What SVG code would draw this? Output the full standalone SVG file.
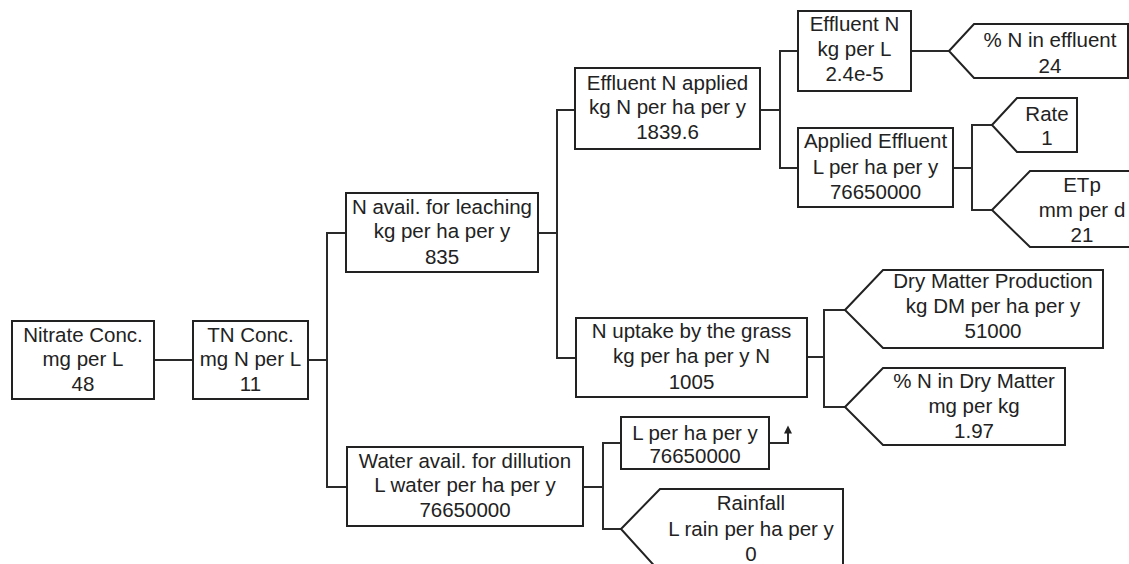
<svg xmlns="http://www.w3.org/2000/svg" width="1129" height="564" viewBox="0 0 1129 564">
  <style>
    .box { fill: #ffffff; stroke: #222222; stroke-width: 2; }
    .wire { fill: none; stroke: #2a2a2a; stroke-width: 2; }
    text { font-family: "Liberation Sans", Arial, sans-serif; font-size: 20.5px; fill: #222222; text-anchor: middle; }
  </style>
  <defs>
    <marker id="arrowHead" viewBox="0 0 10 10" refX="7" refY="5" markerWidth="9" markerHeight="8" orient="auto" markerUnits="userSpaceOnUse">
      <path d="M0,0 L10,5 L0,10 Z" fill="#222222"/>
    </marker>
  </defs>
  <rect width="1129" height="564" fill="#ffffff"/>

  <!-- connectors -->
  <g id="connectors">
    <path class="wire" d="M154,360 H193"/>
    <path class="wire" d="M308,360 H327"/>
    <path class="wire" d="M346,233 H327 V487 H347"/>
    <path class="wire" d="M538,233 H557"/>
    <path class="wire" d="M575,110 H557 V358 H576"/>
    <path class="wire" d="M760,110 H780"/>
    <path class="wire" d="M798,51 H780 V168 H798"/>
    <path class="wire" d="M911,51 H949"/>
    <path class="wire" d="M953,168 H972"/>
    <path class="wire" d="M992,125 H972 V210 H992"/>
    <path class="wire" d="M807,357 H824"/>
    <path class="wire" d="M845,310 H824 V407 H845"/>
    <path class="wire" d="M583,487 H603"/>
    <path class="wire" d="M621,443 H603 V529 H621"/>
    <path class="wire" d="M769,443 H788 V428" marker-end="url(#arrowHead)"/>
  </g>

  <g id="nitrate-conc">
    <rect class="box" x="12" y="321" width="142" height="78"/>
    <text x="83" y="342">Nitrate Conc.</text>
    <text x="83" y="366">mg per L</text>
    <text x="83" y="391">48</text>
  </g>

  <g id="tn-conc">
    <rect class="box" x="193" y="321" width="115" height="78"/>
    <text x="250.5" y="342">TN Conc.</text>
    <text x="250.5" y="366">mg N per L</text>
    <text x="250.5" y="391">11</text>
  </g>

  <g id="n-avail-leaching">
    <rect class="box" x="346" y="193" width="192" height="79"/>
    <text x="442" y="214">N avail. for leaching</text>
    <text x="442" y="238">kg per ha per y</text>
    <text x="442" y="264">835</text>
  </g>

  <g id="water-avail-dilution">
    <rect class="box" x="347" y="447" width="236" height="79"/>
    <text x="465" y="468">Water avail. for dillution</text>
    <text x="465" y="492">L water per ha per y</text>
    <text x="465" y="517">76650000</text>
  </g>

  <g id="effluent-n-applied">
    <rect class="box" x="575" y="68" width="185" height="81"/>
    <text x="667.5" y="90">Effluent N applied</text>
    <text x="667.5" y="114">kg N per ha per y</text>
    <text x="667.5" y="139">1839.6</text>
  </g>

  <g id="n-uptake-grass">
    <rect class="box" x="576" y="318" width="231" height="79"/>
    <text x="691.5" y="338">N uptake by the grass</text>
    <text x="691.5" y="363">kg per ha per y N</text>
    <text x="691.5" y="389">1005</text>
  </g>

  <g id="effluent-n">
    <rect class="box" x="798" y="11" width="113" height="80"/>
    <text x="854.5" y="31">Effluent N</text>
    <text x="854.5" y="56">kg per L</text>
    <text x="854.5" y="81">2.4e-5</text>
  </g>

  <g id="applied-effluent">
    <rect class="box" x="798" y="128" width="155" height="79"/>
    <text x="875.5" y="148">Applied Effluent</text>
    <text x="875.5" y="174">L per ha per y</text>
    <text x="875.5" y="199">76650000</text>
  </g>

  <g id="pct-n-effluent">
    <path class="box" d="M949,51 L974,24 H1128 V78 H974 Z"/>
    <text x="1050" y="47">% N in effluent</text>
    <text x="1050" y="73">24</text>
  </g>

  <g id="rate">
    <path class="box" d="M992,125 L1017,98 H1077 V152 H1017 Z"/>
    <text x="1047" y="121">Rate</text>
    <text x="1047" y="145">1</text>
  </g>

  <g id="etp">
    <path class="box" d="M992,210 L1030,171 H1140 V247 H1030 Z"/>
    <text x="1082" y="192">ETp</text>
    <text x="1082" y="217">mm per d</text>
    <text x="1082" y="242">21</text>
  </g>

  <g id="dry-matter-production">
    <path class="box" d="M845,310 L883,270 H1103 V348 H883 Z"/>
    <text x="993" y="288">Dry Matter Production</text>
    <text x="993" y="313">kg DM per ha per y</text>
    <text x="993" y="338">51000</text>
  </g>

  <g id="pct-n-dry-matter">
    <path class="box" d="M845,407 L883,368 H1065 V445 H883 Z"/>
    <text x="974" y="388">% N in Dry Matter</text>
    <text x="974" y="413">mg per kg</text>
    <text x="974" y="438">1.97</text>
  </g>

  <g id="l-per-ha-per-y">
    <rect class="box" x="621" y="417" width="148" height="52"/>
    <text x="695" y="440">L per ha per y</text>
    <text x="695" y="463">76650000</text>
  </g>

  <g id="rainfall">
    <path class="box" d="M621,529 L660,489 H843 V572 H660 Z"/>
    <text x="751" y="510">Rainfall</text>
    <text x="751" y="536">L rain per ha per y</text>
    <text x="751" y="561">0</text>
  </g>
</svg>
